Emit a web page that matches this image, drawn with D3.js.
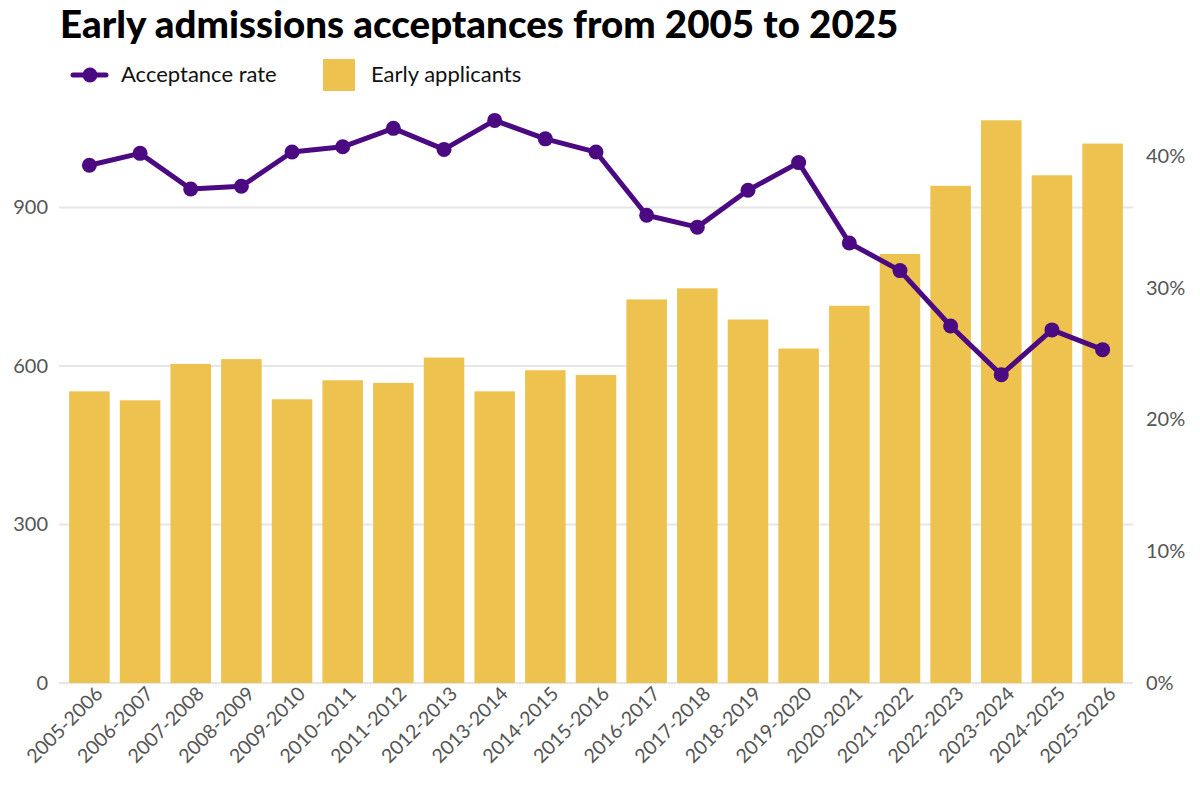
<!DOCTYPE html>
<html>
<head>
<meta charset="utf-8">
<script src="https://cdn.jsdelivr.net/npm/d3@7"></script>
<style>
  body { margin: 0; background: #fff; }
  text { font-family: Lato, "Open Sans", sans-serif; }
</style>
</head>
<body>
<div id="chart"></div>
<script>
// data
const years = ["2005-2006","2006-2007","2007-2008","2008-2009","2009-2010","2010-2011","2011-2012",
  "2012-2013","2013-2014","2014-2015","2015-2016","2016-2017","2017-2018","2018-2019","2019-2020",
  "2020-2021","2021-2022","2022-2023","2023-2024","2024-2025","2025-2026"];
const applicants = [552, 535, 604, 613, 537, 573, 568, 616, 552, 592, 583, 726, 747, 688, 633, 714, 812, 941, 1065, 961, 1021];
const acceptRate = [39.3, 40.2, 37.5, 37.7, 40.3, 40.7, 42.1, 40.5, 42.7, 41.3, 40.3, 35.5, 34.6, 37.4, 39.5, 33.4, 31.3, 27.1, 23.4, 26.8, 25.3];
const leftTicks = [0, 300, 600, 900];
const rightTicks = [0, 10, 20, 30, 40];

const width = 1200, height = 793;
const barColor = "#eec24e";
const lineColor = "#4b0a82";

const svg = d3.select("#chart").append("svg")
  .attr("width", width)
  .attr("height", height);

// title
svg.append("text")
  .attr("x", 60).attr("y", 38)
  .attr("font-size", 38.5).attr("font-weight", 900)
  .attr("fill", "#000")
  .text("Early admissions acceptances from 2005 to 2025");

// legend
const leg = svg.append("g");
leg.append("line").attr("x1", 73).attr("x2", 106).attr("y1", 75).attr("y2", 75)
  .attr("stroke", lineColor).attr("stroke-width", 5).attr("stroke-linecap", "round");
leg.append("circle").attr("cx", 90).attr("cy", 75).attr("r", 7.5).attr("fill", lineColor);
leg.append("text").attr("x", 121).attr("y", 82).attr("font-size", 22).attr("fill", "#111")
  .text("Acceptance rate");
leg.append("rect").attr("x", 323).attr("y", 59).attr("width", 32).attr("height", 32).attr("fill", barColor);
leg.append("text").attr("x", 371).attr("y", 82).attr("font-size", 22).attr("fill", "#111")
  .text("Early applicants");

// scales
const x = d3.scaleBand().domain(years).range([59, 1133]).paddingInner(0.2).paddingOuter(0.2);
const yLeft = d3.scaleLinear().domain([0, 900]).range([683, 207.5]);
const yRight = d3.scaleLinear().domain([0, 40]).range([683, 156]);

// gridlines
svg.append("g").selectAll("line")
  .data(leftTicks)
  .enter().append("line")
  .attr("x1", 59).attr("x2", 1133)
  .attr("y1", d => yLeft(d)).attr("y2", d => yLeft(d))
  .attr("stroke", "#e6e6e6").attr("stroke-width", 2);

// left axis
const leftAxis = svg.append("g")
  .attr("transform", "translate(48,0)")
  .call(d3.axisLeft(yLeft).tickValues(leftTicks).tickSize(0).tickPadding(0));
leftAxis.select(".domain").remove();
leftAxis.selectAll("text").attr("font-size", 20).attr("fill", "#555").attr("font-family", "Lato");

// right axis
const rightAxis = svg.append("g")
  .attr("transform", "translate(1146,0)")
  .call(d3.axisRight(yRight).tickValues(rightTicks).tickSize(0).tickPadding(0).tickFormat(d => d + "%"));
rightAxis.select(".domain").remove();
rightAxis.selectAll("text").attr("font-size", 20).attr("fill", "#555").attr("font-family", "Lato");

// bars
svg.append("g").selectAll("rect")
  .data(years)
  .enter().append("rect")
  .attr("x", d => x(d))
  .attr("y", (d, i) => yLeft(applicants[i]))
  .attr("width", x.bandwidth())
  .attr("height", (d, i) => yLeft(0) - yLeft(applicants[i]))
  .attr("fill", barColor);

// x axis labels
const xAxis = svg.append("g")
  .attr("transform", "translate(0,693)")
  .call(d3.axisBottom(x).tickSize(0).tickPadding(0));
xAxis.select(".domain").remove();
xAxis.selectAll("text")
  .attr("font-size", 19.5).attr("fill", "#555").attr("font-family", "Lato")
  .attr("text-anchor", "end")
  .attr("dy", "0.6em").attr("dx", "0.45em")
  .attr("transform", "rotate(-45)");

// line + markers
const line = d3.line()
  .x((d, i) => x(years[i]) + x.bandwidth() / 2)
  .y(d => yRight(d));

svg.append("path")
  .datum(acceptRate)
  .attr("d", line)
  .attr("fill", "none")
  .attr("stroke", lineColor)
  .attr("stroke-width", 5)
  .attr("stroke-linejoin", "round");

svg.append("g").selectAll("circle")
  .data(acceptRate)
  .enter().append("circle")
  .attr("cx", (d, i) => x(years[i]) + x.bandwidth() / 2)
  .attr("cy", d => yRight(d))
  .attr("r", 7.5)
  .attr("fill", lineColor);
</script>
</body>
</html>
